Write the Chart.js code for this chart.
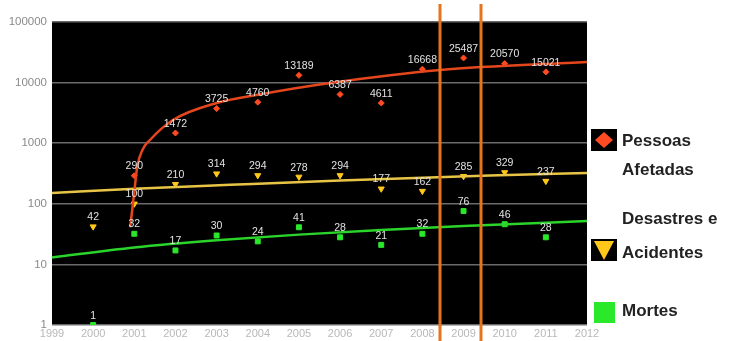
<!DOCTYPE html>
<html lang="pt">
<head>
<meta charset="UTF-8">
<title>Pessoas afetadas, desastres e mortes</title>
<script src="https://cdn.jsdelivr.net/npm/chart.js"></script>
<style>
  body { margin: 0; background: #fff; }
  #wrap { position: relative; width: 732px; height: 341px; }
  #chart { position: absolute; left: 0; top: 0; }
  .leg { position: absolute; font-family: "Liberation Sans", Arial, sans-serif; font-weight: bold; font-size: 17px; color: #222; line-height: 29px; }
  .icon { position: absolute; width: 26px; height: 22px; background: #000; }
</style>
</head>
<body>
<div id="wrap">
  <canvas id="chart" width="732" height="341"></canvas>
  <!-- legend -->
  <div class="icon" style="left:591px;top:129px;"><canvas id="ic1" width="26" height="22"></canvas></div>
  <div class="leg" style="left:622px;top:126px;">Pessoas<br>Afetadas</div>
  <div class="icon" style="left:591px;top:239px;"><canvas id="ic2" width="26" height="22"></canvas></div>
  <div class="leg" style="left:622px;top:202px;line-height:34px;">Desastres e<br>Acidentes</div>
  <div style="position:absolute;left:594px;top:302px;width:21px;height:21px;background:#2ae82a;"></div>
  <div class="leg" style="left:622px;top:296px;">Mortes</div>
</div>
<script>
// data
var years = [2000, 2001, 2002, 2003, 2004, 2005, 2006, 2007, 2008, 2009, 2010, 2011];
var pessoas = [null, 290, 1472, 3725, 4760, 13189, 6387, 4611, 16668, 25487, 20570, 15021];
var desastres = [42, 100, 210, 314, 294, 278, 294, 177, 162, 285, 329, 237];
var mortes = [1, 32, 17, 30, 24, 41, 28, 21, 32, 76, 46, 28];

// trend lines
var trendPessoasX = [2000.9, 2001.0, 2001.07, 2001.2, 2001.38, 2001.94, 2003.0, 2004.0, 2005.76, 2008.43, 2012];
var trendPessoasY = [41, 157, 405, 780, 1130, 2415, 4600, 6300, 9850, 16150, 21900];
var trendDesastresX = [1999, 2001, 2003.33, 2006, 2009.64, 2012];
var trendDesastresY = [151, 177, 206, 243, 292, 322];
var trendMortesX = [1999, 2001, 2003, 2005, 2007, 2009, 2012];
var trendMortesY = [13, 19, 25, 31, 37, 43, 52];

var yTicks = [1, 10, 100, 1000, 10000, 100000];
var highlightYears = [2008.43, 2009.43];

var colRed = "#ff4a22", colYellow = "#ffc81a", colGreen = "#2ae82a";

function pts(xs, ys) {
  var out = [];
  for (var i = 0; i < xs.length; i++) {
    if (ys[i] != null) out.push({ x: xs[i], y: ys[i] });
  }
  return out;
}

// black plot background
var bgPlugin = {
  id: "bg",
  beforeDraw: function (chart) {
    var a = chart.chartArea, c = chart.ctx;
    c.save();
    c.fillStyle = "#000";
    c.fillRect(a.left, a.top, a.right - a.left, a.bottom - a.top);
    c.restore();
  }
};

// value labels above the markers + orange highlight lines
var labelPlugin = {
  id: "labels",
  afterDatasetsDraw: function (chart) {
    var c = chart.ctx;
    c.save();
    c.font = "10.5px 'Liberation Sans', Arial, sans-serif";
    c.fillStyle = "#e2e2e2";
    c.textAlign = "center";
    c.textBaseline = "bottom";
    [3, 4, 5].forEach(function (i) {
      var meta = chart.getDatasetMeta(i);
      var ds = chart.data.datasets[i].data;
      meta.data.forEach(function (p, j) {
        c.fillText(String(ds[j].y), p.x, p.y - 4);
      });
    });
    var xs = chart.scales.x;
    c.strokeStyle = "#e8731f";
    c.lineWidth = 3;
    highlightYears.forEach(function (v) {
      var px = Math.round(xs.getPixelForValue(v));
      c.beginPath();
      c.moveTo(px, 4);
      c.lineTo(px, 341);
      c.stroke();
    });
    c.restore();
  }
};

var ctx = document.getElementById("chart").getContext("2d");
var myChart = new Chart(ctx, {
  type: "line",
  data: {
    datasets: [
      { data: pts(trendPessoasX, trendPessoasY), borderColor: "#e5461c", borderWidth: 2.5, pointRadius: 0, cubicInterpolationMode: "monotone" },
      { data: pts(trendDesastresX, trendDesastresY), borderColor: "#e8c446", borderWidth: 2.5, pointRadius: 0, cubicInterpolationMode: "monotone" },
      { data: pts(trendMortesX, trendMortesY), borderColor: "#2ad42a", borderWidth: 2.5, pointRadius: 0, cubicInterpolationMode: "monotone" },
      { data: pts(years, pessoas), showLine: false, pointStyle: "rectRot", pointRadius: 3, backgroundColor: colRed, borderColor: colRed },
      { data: pts(years, desastres), showLine: false, pointStyle: "triangle", rotation: 180, pointRadius: 3.5, backgroundColor: colYellow, borderColor: colYellow },
      { data: pts(years, mortes), showLine: false, pointStyle: "rect", pointRadius: 3.5, backgroundColor: colGreen, borderColor: colGreen }
    ]
  },
  options: {
    responsive: false,
    animation: false,
    layout: { padding: { top: 22, right: 145, left: 0, bottom: 0 } },
    plugins: { legend: { display: false }, tooltip: { enabled: false } },
    scales: {
      x: {
        type: "linear",
        min: 1999,
        max: 2012,
        grid: { display: false, drawTicks: false },
        border: { display: false },
        afterFit: function (s) { s.height = 16; },
        afterBuildTicks: function (s) {
          s.ticks = [];
          for (var y = 1999; y <= 2012; y++) s.ticks.push({ value: y });
        },
        ticks: {
          color: "#b8b8b8",
          padding: 2,
          maxRotation: 0,
          autoSkip: false,
          font: { family: "Liberation Sans", size: 11 },
          callback: function (v) { return String(v); }
        }
      },
      y: {
        type: "logarithmic",
        min: 1,
        max: 100000,
        afterFit: function (s) { s.width = 52; },
        afterBuildTicks: function (s) {
          s.ticks = yTicks.map(function (v) { return { value: v }; });
        },
        grid: { color: "#6a6a6a", lineWidth: 1.5, drawTicks: false },
        border: { display: false },
        ticks: {
          color: "#8a8a8a",
          padding: 5,
          font: { family: "Liberation Sans", size: 11.5 },
          callback: function (v) { return String(v); }
        }
      }
    }
  },
  plugins: [bgPlugin, labelPlugin]
});

// legend icons
var c1 = document.getElementById("ic1").getContext("2d");
c1.fillStyle = colRed;
c1.beginPath(); c1.moveTo(13, 3); c1.lineTo(22, 11); c1.lineTo(13, 19); c1.lineTo(4, 11); c1.closePath(); c1.fill();
var c2 = document.getElementById("ic2").getContext("2d");
c2.fillStyle = colYellow;
c2.beginPath(); c2.moveTo(3, 2); c2.lineTo(23, 2); c2.lineTo(13, 21); c2.closePath(); c2.fill();
</script>
</body>
</html>
